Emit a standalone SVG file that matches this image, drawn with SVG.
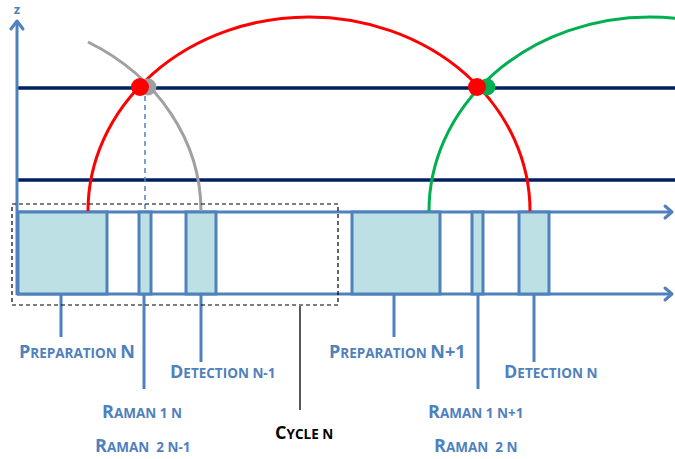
<svg xmlns="http://www.w3.org/2000/svg" width="675" height="459" viewBox="0 0 675 459">
<style>
.ax{stroke:#4F81BD;stroke-width:3;fill:none}
.hd{stroke:#4F81BD;stroke-width:3;fill:none;stroke-linecap:round;stroke-linejoin:round}
.nv{stroke:#002060;stroke-width:3.5}
.bx{fill:#BCE0E4;stroke:#4F81BD;stroke-width:3}
.tk{stroke:#4F81BD;stroke-width:3}
.arc{fill:none;stroke-width:3}
.lb{font-family:"Open Sans","Liberation Sans",sans-serif;font-weight:bold;fill:#4F81BD;white-space:pre}
.big{font-size:18px}
.sm{font-size:13.5px}
</style>
<rect width="675" height="459" fill="#fff"/>
<g id="levels">
<line class="nv" x1="17" y1="88" x2="675" y2="88"/>
<line class="nv" x1="17" y1="180" x2="675" y2="180"/>
</g>
<g id="axes">
<line class="ax" x1="17" y1="21" x2="17" y2="295"/>
<polyline class="hd" points="11,29 17,21 23,29"/>
<text class="lb" x="17" y="14" text-anchor="middle" font-size="13">z</text>
<line class="ax" x1="17" y1="212" x2="672" y2="212"/>
<polyline class="hd" points="665,206 672,212 665,218"/>
<line class="ax" x1="17" y1="294" x2="672" y2="294"/>
<polyline class="hd" points="665,288 672,294 665,300"/>
</g>
<g id="boxes">
<rect class="bx" x="18" y="212" width="89" height="82"/>
<rect class="bx" x="139" y="212" width="12" height="82"/>
<rect class="bx" x="186" y="212" width="30" height="82"/>
<rect class="bx" x="352" y="212" width="88" height="82"/>
<rect class="bx" x="472" y="212" width="11" height="82"/>
<rect class="bx" x="519" y="212" width="30" height="82"/>
</g>
<g id="connectors">
<path class="arc" stroke="#A0A0A0" d="M 88 42 A 221 194 0 0 1 201 211"/>
<path class="arc" stroke="#FF0000" d="M 88 211 A 221 194 0 0 1 530 211"/>
<path class="arc" stroke="#00B050" d="M 429 211 A 221 194 0 0 1 871 211"/>
<line x1="145" y1="96" x2="145" y2="210" stroke="#4F81BD" stroke-width="1.5" stroke-dasharray="5,4"/>
<line class="tk" x1="61" y1="295" x2="61" y2="337"/>
<line class="tk" x1="144" y1="295" x2="144" y2="389"/>
<line class="tk" x1="201" y1="295" x2="201" y2="362"/>
<line class="tk" x1="394" y1="295" x2="394" y2="337"/>
<line class="tk" x1="478" y1="295" x2="478" y2="389"/>
<line class="tk" x1="534" y1="295" x2="534" y2="362"/>
<line x1="300" y1="306" x2="300" y2="410" stroke="#000" stroke-width="1.3"/>
</g>
<g id="cycle">
<rect x="12" y="204" width="326" height="101" fill="none" stroke="#000" stroke-width="1.2" stroke-dasharray="4,3"/>
</g>
<g id="dots">
<circle cx="148" cy="87" r="8.5" fill="#A0A0A0"/>
<circle cx="140" cy="87" r="9" fill="#FF0000"/>
<circle cx="487" cy="87" r="8.5" fill="#00B050"/>
<circle cx="477" cy="87" r="9" fill="#FF0000"/>
</g>
<g id="labels">
<text class="lb" x="19" y="358"><tspan class="big">P</tspan><tspan class="sm">REPARATION </tspan><tspan class="big">N</tspan></text>
<text class="lb" x="170" y="378"><tspan class="big">D</tspan><tspan class="sm">ETECTION N-1</tspan></text>
<text class="lb" x="102" y="418"><tspan class="big">R</tspan><tspan class="sm">AMAN 1 N</tspan></text>
<text class="lb" x="95" y="452" xml:space="preserve"><tspan class="big">R</tspan><tspan class="sm">AMAN  2 N-1</tspan></text>
<text class="lb" x="275" y="439" style="fill:#000"><tspan class="big">C</tspan><tspan class="sm">YCLE N</tspan></text>
<text class="lb" x="329" y="358"><tspan class="big">P</tspan><tspan class="sm">REPARATION </tspan><tspan class="big">N+1</tspan></text>
<text class="lb" x="504" y="378"><tspan class="big">D</tspan><tspan class="sm">ETECTION N</tspan></text>
<text class="lb" x="428" y="418"><tspan class="big">R</tspan><tspan class="sm">AMAN 1 N+1</tspan></text>
<text class="lb" x="434" y="452" xml:space="preserve"><tspan class="big">R</tspan><tspan class="sm">AMAN  2 N</tspan></text>
</g>
</svg>
